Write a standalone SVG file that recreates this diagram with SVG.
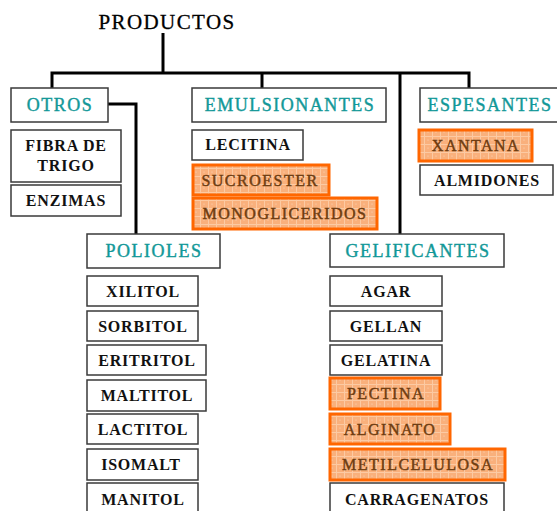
<svg xmlns="http://www.w3.org/2000/svg" width="557" height="511" viewBox="0 0 557 511">
<defs>
<pattern id="grid" width="8" height="8" patternUnits="userSpaceOnUse">
<rect width="8" height="8" fill="#f9b07c"/>
<path d="M0 0.5H8M0.5 0V8" stroke="#fccaa3" stroke-width="1"/>
<circle cx="4" cy="4" r="0.6" fill="#fdd8bb"/>
</pattern>
<style>
.box{fill:#fff;stroke:#3a3a3a;stroke-width:1.5}
.hl{fill:url(#grid);stroke:#ff6600;stroke-width:3}
.t{font-family:"Liberation Serif",serif;text-anchor:middle}
.cat{font-size:18px;fill:#129898;stroke:#129898;stroke-width:0.4;letter-spacing:1.5px}
.item{font-size:16px;font-weight:bold;fill:#111;letter-spacing:0.8px}
.hit{font-size:16px;fill:#6e3c10;stroke:#6e3c10;stroke-width:0.45;letter-spacing:1.5px}
.ln{fill:none;stroke:#000;stroke-width:3}
</style>
</defs>
<rect width="557" height="511" fill="#fff"/>
<text class="t" x="167" y="29" font-size="21" letter-spacing="1.4" fill="#000" stroke="#000" stroke-width="0.3">PRODUCTOS</text>
<g id="connectors">
<path class="ln" d="M163 33V73"/>
<path class="ln" d="M52 88V73H469V88"/>
<path class="ln" d="M262 73V88"/>
<path class="ln" d="M400 73V234"/>
<path class="ln" d="M108 104H136V234"/>
</g>
<g id="otros"><rect class="box" x="11" y="88" width="97" height="34"/><text class="t cat" x="60" y="111">OTROS</text></g>
<g id="emulsionantes"><rect class="box" x="192" y="88" width="194" height="34"/><text class="t cat" x="290" y="111">EMULSIONANTES</text></g>
<g id="espesantes"><rect class="box" x="420" y="88" width="142" height="34"/><text class="t cat" x="490" y="111">ESPESANTES</text></g>
<g id="fibra"><rect class="box" x="11" y="130" width="110" height="52"/><text class="t item" x="66" y="151">FIBRA DE</text><text class="t item" x="66" y="171">TRIGO</text></g>
<g id="enzimas"><rect class="box" x="11" y="185" width="110" height="31"/><text class="t item" x="66" y="206">ENZIMAS</text></g>
<g id="lecitina"><rect class="box" x="192" y="130" width="111" height="30"/><text class="t item" x="248" y="150">LECITINA</text></g>
<g id="sucroester"><rect class="hl" x="193" y="165" width="136" height="30"/><text class="t hit" x="260" y="186">SUCROESTER</text></g>
<g id="monogliceridos"><rect class="hl" x="193" y="198" width="184" height="31"/><text class="t hit" x="285" y="219">MONOGLICERIDOS</text></g>
<g id="xantana"><rect class="hl" x="419" y="130" width="113" height="31"/><text class="t hit" x="476" y="151">XANTANA</text></g>
<g id="almidones"><rect class="box" x="420" y="165" width="133" height="30"/><text class="t item" x="487" y="186">ALMIDONES</text></g>
<g id="polioles"><rect class="box" x="87" y="234" width="133" height="34"/><text class="t cat" x="154" y="257">POLIOLES</text></g>
<g id="gelificantes"><rect class="box" x="330" y="234" width="174" height="33"/><text class="t cat" x="418" y="257">GELIFICANTES</text></g>
<g id="xilitol"><rect class="box" x="87" y="276" width="111" height="30"/><text class="t item" x="143" y="297">XILITOL</text></g>
<g id="sorbitol"><rect class="box" x="87" y="311" width="111" height="30"/><text class="t item" x="143" y="332">SORBITOL</text></g>
<g id="eritritol"><rect class="box" x="87" y="345" width="119" height="30"/><text class="t item" x="147" y="366">ERITRITOL</text></g>
<g id="maltitol"><rect class="box" x="87" y="380" width="119" height="31"/><text class="t item" x="147" y="401">MALTITOL</text></g>
<g id="lactitol"><rect class="box" x="87" y="414" width="111" height="30"/><text class="t item" x="143" y="435">LACTITOL</text></g>
<g id="isomalt"><rect class="box" x="87" y="449" width="111" height="31"/><text class="t item" x="141" y="470">ISOMALT</text></g>
<g id="manitol"><rect class="box" x="87" y="483" width="111" height="32"/><text class="t item" x="143" y="505">MANITOL</text></g>
<g id="agar"><rect class="box" x="330" y="276" width="112" height="30"/><text class="t item" x="386" y="297">AGAR</text></g>
<g id="gellan"><rect class="box" x="330" y="311" width="112" height="30"/><text class="t item" x="386" y="332">GELLAN</text></g>
<g id="gelatina"><rect class="box" x="330" y="345" width="112" height="30"/><text class="t item" x="386" y="366">GELATINA</text></g>
<g id="pectina"><rect class="hl" x="330" y="378" width="110" height="31"/><text class="t hit" x="386" y="399">PECTINA</text></g>
<g id="alginato"><rect class="hl" x="330" y="414" width="120" height="30"/><text class="t hit" x="390" y="435">ALGINATO</text></g>
<g id="metilcelulosa"><rect class="hl" x="330" y="449" width="175" height="31"/><text class="t hit" x="418" y="470">METILCELULOSA</text></g>
<g id="carragenatos"><rect class="box" x="330" y="483" width="174" height="32"/><text class="t item" x="417" y="505">CARRAGENATOS</text></g>
</svg>
